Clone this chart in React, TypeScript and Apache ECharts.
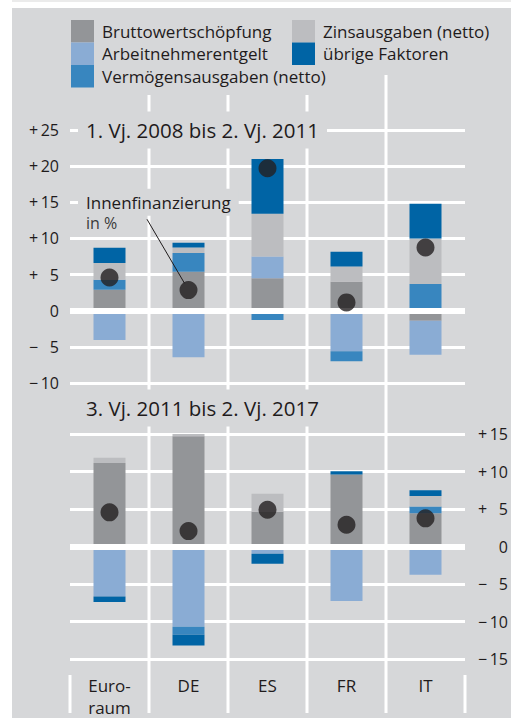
import React, { useEffect, useRef } from "react";
import * as echarts from "echarts";

const categories = ["Euro-\nraum", "DE", "ES", "FR", "IT"];
const seriesNames = [
  "Bruttowertschöpfung",
  "Arbeitnehmerentgelt",
  "Vermögensausgaben (netto)",
  "Zinsausgaben (netto)",
  "übrige Faktoren",
];
const seriesColors = ["#939598", "#8aacd4", "#3886bf", "#bcbdc0", "#0064a5"];
const legendCol1 = ["Bruttowertschöpfung", "Arbeitnehmerentgelt", "Vermögensausgaben (netto)"];
const legendCol2 = ["Zinsausgaben (netto)", "übrige Faktoren"];

// Panel 1: 1. Vj. 2008 bis 2. Vj. 2011
const brutto1 = [2.9, 5.4, 4.5, 4.0, -1.4];
const arbeit1 = [-4.05, -6.45, 3.0, -5.6, -4.7];
const vermoegen1 = [1.4, 2.6, -1.3, -1.4, 3.7];
const zins1 = [2.3, 0.75, 5.9, 2.1, 6.3];
const uebrige1 = [2.1, 0.65, 7.6, 2.05, 4.8];
const innen1 = [4.6, 2.85, 19.7, 1.15, 8.75];

// Panel 2: 3. Vj. 2011 bis 2. Vj. 2017
const brutto2 = [11.15, 14.7, 4.65, 9.6, 4.45];
const arbeit2 = [-6.65, -10.7, -0.95, -7.25, -3.75];
const vermoegen2 = [0, -1.05, 0, 0, 0.9];
const zins2 = [0.7, 0.35, 2.4, 0, 1.4];
const uebrige2 = [-0.75, -1.45, -1.35, 0.45, 0.75];
const innen2 = [4.55, 2.05, 4.9, 2.9, 3.75];

const periodTitles = ["1. Vj. 2008 bis 2. Vj. 2011", "3. Vj. 2011 bis 2. Vj. 2017"];
const dotLabel = "Innenfinanzierung";
const dotUnit = "in %";

const FONT = "'Open Sans', sans-serif";
const TEXT = "#1f1b1c";
const PANEL = "#d6d7d9";

const fmtTick = (v: number) => {
  if (v === 0) return "0";
  const sign = v > 0 ? "+" : "\u2212";
  const a = Math.abs(v);
  return sign + "\u2009" + (a < 10 ? "\u2007" : "") + a;
};

export default function App() {
  const ref = useRef<HTMLDivElement>(null);
  useEffect(() => {
    if (!ref.current) return;
    const chart = echarts.init(ref.current, undefined, { renderer: "svg" });
    const panels = [
      [brutto1, arbeit1, vermoegen1, zins1, uebrige1, innen1],
      [brutto2, arbeit2, vermoegen2, zins2, uebrige2, innen2],
    ];
    const series: any[] = [];
    panels.forEach((p, pi) => {
      for (let k = 0; k < 5; k++) {
        const s: any = {
          type: "bar",
          name: seriesNames[k],
          xAxisIndex: pi,
          yAxisIndex: pi,
          stack: "p" + pi,
          barWidth: 32,
          data: p[k],
          itemStyle: { color: seriesColors[k] },
          z: 2,
          silent: true,
        };
        if (k === 0) {
          s.markLine = {
            silent: true,
            symbol: "none",
            z: 5,
            label: { show: false },
            lineStyle: { color: "#ffffff", width: 6, type: "solid" },
            data: [{ yAxis: 0 }],
          };
        }
        series.push(s);
      }
      series.push({
        type: "scatter",
        name: dotLabel,
        xAxisIndex: pi,
        yAxisIndex: pi,
        data: p[5],
        symbolSize: 18,
        itemStyle: { color: "#231f20" },
        z: 10,
        silent: true,
      });
    });

    const axisLabelBase = { fontSize: 16, color: TEXT, fontFamily: FONT, formatter: fmtTick };
    const splitLine = { show: true, lineStyle: { color: "#ffffff", width: 3 } };
    const legendBase = {
      top: 20,
      orient: "vertical",
      itemGap: 0,
      itemWidth: 23,
      itemHeight: 22.5,
      padding: 0,
      icon: "rect",
      selectedMode: false,
      textStyle: { fontSize: 17, color: TEXT, fontFamily: FONT, lineHeight: 22.5, padding: [0, 0, 0, 3] },
    };

    chart.setOption({
      animation: false,
      backgroundColor: "#ffffff",
      textStyle: { fontFamily: FONT },
      legend: [
        { ...legendBase, data: legendCol1, left: 71 },
        { ...legendBase, data: legendCol2, left: 292 },
      ],
      grid: [
        { left: 70, right: 46, top: 130, height: 253 },
        { left: 70, right: 46, top: 434, height: 225 },
      ],
      xAxis: [
        {
          type: "category",
          gridIndex: 0,
          data: categories,
          axisLine: { show: false },
          axisTick: { show: false },
          axisLabel: { show: false },
          splitLine: { show: false },
        },
        {
          type: "category",
          gridIndex: 1,
          data: categories,
          axisLine: { show: false },
          axisTick: { show: false },
          splitLine: { show: false },
          axisLabel: {
            show: true,
            margin: 15,
            fontSize: 17,
            lineHeight: 22,
            color: TEXT,
            fontFamily: FONT,
            verticalAlign: "top",
            interval: 0,
          },
        },
      ],
      yAxis: [
        {
          type: "value",
          gridIndex: 0,
          min: -10,
          max: 25,
          interval: 5,
          position: "left",
          axisLine: { show: false },
          axisTick: { show: false },
          axisLabel: { ...axisLabelBase, margin: 11 },
          splitLine,
        },
        {
          type: "value",
          gridIndex: 1,
          min: -15,
          max: 15,
          interval: 5,
          position: "right",
          axisLine: { show: false },
          axisTick: { show: false },
          axisLabel: { ...axisLabelBase, margin: 43, align: "right" },
          splitLine,
        },
      ],
      series,
    });

    // decorations derived from axes
    const centers = categories.map((_, i) => chart.convertToPixel({ xAxisIndex: 1 }, i) as number);
    const band = centers[1] - centers[0];
    const gridLeft = centers[0] - band / 2;
    const gridRight = centers[centers.length - 1] + band / 2;
    const yTop25 = chart.convertToPixel({ yAxisIndex: 0 }, 25) as number;
    const y15top = chart.convertToPixel({ yAxisIndex: 0 }, 15) as number;
    const yBottomAxisTop = chart.convertToPixel({ yAxisIndex: 1 }, 15) as number;
    const yBottomAxisMin = chart.convertToPixel({ yAxisIndex: 1 }, -15) as number;
    const labelBottom = yBottomAxisMin + 54;

    const graphic: any[] = [
      { type: "rect", z: -100, shape: { x: 12, y: 8, width: 499, height: 710 }, style: { fill: PANEL }, silent: true },
      { type: "rect", z: -100, shape: { x: 12, y: 0, width: 499, height: 2 }, style: { fill: "#ebebeb" }, silent: true },
    ];
    for (let i = 1; i < centers.length; i++) {
      const x = (centers[i - 1] + centers[i]) / 2;
      graphic.push({
        type: "line",
        z: -50,
        silent: true,
        shape: { x1: x, y1: i < centers.length - 1 ? 95 : 75, x2: x, y2: labelBottom },
        style: { stroke: "#ffffff", lineWidth: 3 },
      });
    }
    [gridLeft, gridRight].forEach((x) => {
      graphic.push({
        type: "line",
        z: -50,
        silent: true,
        shape: { x1: x, y1: yBottomAxisMin + 16, x2: x, y2: labelBottom },
        style: { stroke: "#ffffff", lineWidth: 3 },
      });
    });
    const titleYs = [yTop25, yBottomAxisTop - 26];
    titleYs.forEach((ty, i) => {
      graphic.push({
        type: "text",
        z: 50,
        silent: true,
        x: gridLeft + 8,
        y: ty,
        style: {
          text: periodTitles[i],
          fontSize: 20.5,
          fontFamily: FONT,
          fill: TEXT,
          verticalAlign: "middle",
          backgroundColor: PANEL,
          padding: [8, 8, 8, 8],
        },
      });
    });
    graphic.push({
      type: "text",
      z: 50,
      silent: true,
      x: gridLeft + 8,
      y: y15top,
      style: {
        text: dotLabel,
        fontSize: 17,
        fontFamily: FONT,
        fill: TEXT,
        verticalAlign: "middle",
        backgroundColor: PANEL,
        padding: [5, 8, 5, 8],
      },
    });
    graphic.push({
      type: "text",
      z: 50,
      silent: true,
      x: gridLeft + 16,
      y: y15top + 21,
      style: { text: dotUnit, fontSize: 16, fontFamily: FONT, fill: "#3a3a3a", verticalAlign: "middle" },
    });
    const dot = chart.convertToPixel({ xAxisIndex: 0, yAxisIndex: 0 }, [1, innen1[1]]) as number[];
    const sx = gridLeft + 77;
    const sy = y15top + 17;
    const dx = dot[0] - sx;
    const dy = dot[1] - sy;
    const len = Math.sqrt(dx * dx + dy * dy);
    graphic.push({
      type: "line",
      z: 50,
      silent: true,
      shape: { x1: sx, y1: sy, x2: dot[0] - (dx / len) * 8, y2: dot[1] - (dy / len) * 8 },
      style: { stroke: TEXT, lineWidth: 1 },
    });
    chart.setOption({ graphic });

    return () => chart.dispose();
  }, []);
  return (
    <div
      ref={ref}
      style={{ position: "fixed", left: 0, top: 0, width: 511, height: 718 }}
    />
  );
}
